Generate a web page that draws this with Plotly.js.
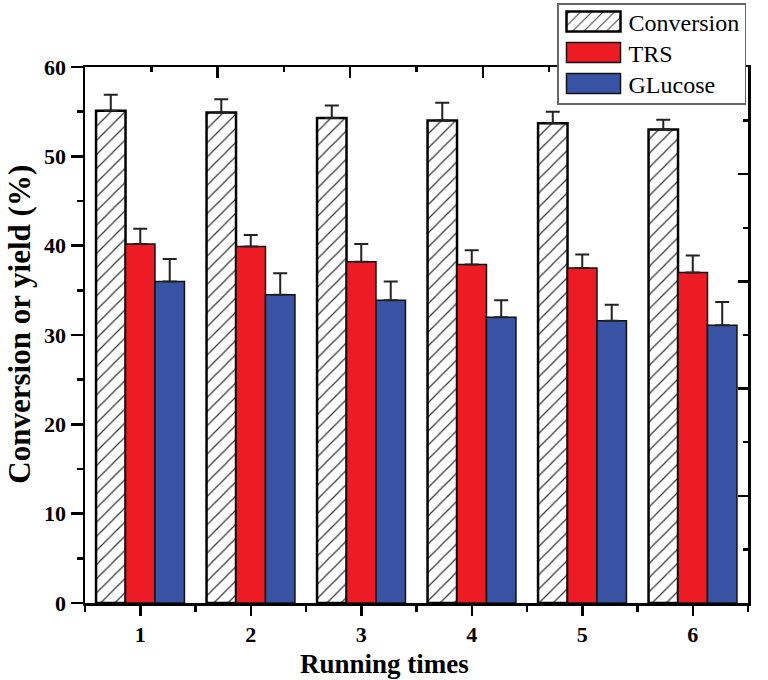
<!DOCTYPE html>
<html>
<head>
<meta charset="utf-8">
<script src="https://cdn.plot.ly/plotly-3.0.1.min.js"></script>
<style>
  body { margin: 0; background: #fff; }
  #chart { width: 768px; height: 680px; }
</style>
</head>
<body>
<div id="chart"></div>
<script>
// running times
const runs = [1, 2, 3, 4, 5, 6];

// conversion / yield values (%)
const conversion = [55.1, 54.9, 54.3, 54.0, 53.7, 53.0];
const conversionErr = [1.8, 1.5, 1.4, 2.0, 1.3, 1.1];
const trs = [40.2, 39.9, 38.2, 37.9, 37.5, 37.0];
const trsErr = [1.7, 1.3, 2.0, 1.6, 1.5, 1.9];
const glucose = [36.0, 34.5, 33.9, 32.0, 31.6, 31.1];
const glucoseErr = [2.5, 2.4, 2.1, 1.9, 1.8, 2.6];

const yTicks = [0, 10, 20, 30, 40, 50, 60];

const serif = 'Liberation Serif';

/**
 * Builds a bar trace with one-sided error bars
 */
function barTrace(name, values, errs, marker){
  return {
    type: 'bar',
    name: name,
    x: runs,
    y: values,
    marker: marker,
    error_y: {
      type: 'data',
      symmetric: false,
      array: errs,
      arrayminus: errs.map(function(){ return 0; }),
      color: '#222',
      thickness: 2,
      width: 7
    }
  };
}

const data = [
  barTrace('Conversion', conversion, conversionErr, {
    color: '#fff',
    line: {color: '#000', width: 2.5},
    pattern: {shape: '/', fgcolor: '#333', bgcolor: '#fff', size: 10, solidity: 0.12}
  }),
  barTrace('TRS', trs, trsErr, {
    color: '#ED1C24',
    line: {color: '#111', width: 1.5}
  }),
  barTrace('GLucose', glucose, glucoseErr, {
    color: '#3953A4',
    line: {color: '#111', width: 1.5}
  }),
  // invisible trace carrying the top / right frame axes
  {type: 'scatter', x: [0], y: [0], xaxis: 'x2', yaxis: 'y2',
   mode: 'markers', marker: {opacity: 0}, showlegend: false, hoverinfo: 'skip'}
];

const tickFont = {family: serif, size: 22, color: '#000', weight: 700};

// shared frame settings for the unlabeled top / right axes
function frameAxis(side, len){
  return {
    side: side,
    range: [0, 10],
    dtick: 2,
    tick0: 0,
    ticks: 'inside',
    ticklen: len,
    tickwidth: 2.5,
    tickcolor: '#000',
    minor: {dtick: 1, ticks: 'inside', ticklen: 5, tickwidth: 2.5, tickcolor: '#000'},
    showticklabels: false,
    showline: true,
    linecolor: '#000',
    linewidth: 2.5,
    showgrid: false,
    zeroline: false
  };
}

const xaxis2 = frameAxis('top', 11);
xaxis2.overlaying = 'x';
const yaxis2 = frameAxis('right', 10);
yaxis2.overlaying = 'y';

const layout = {
  width: 768,
  height: 680,
  margin: {l: 85, r: 20, t: 67, b: 77},
  paper_bgcolor: '#fff',
  plot_bgcolor: '#fff',
  barmode: 'group',
  bargap: 0.2,
  bargroupgap: 0,
  font: {family: serif, color: '#000'},
  xaxis: {
    range: [0.5, 6.5],
    tickvals: runs,
    ticktext: runs.map(String),
    ticks: 'outside',
    ticklen: 10,
    tickwidth: 2.5,
    tickcolor: '#000',
    minor: {dtick: 1, tick0: 0.5, ticks: 'outside', ticklen: 6, tickwidth: 2.5, tickcolor: '#000'},
    showline: true,
    linecolor: '#000',
    linewidth: 2.5,
    showgrid: false,
    zeroline: false,
    tickfont: tickFont
  },
  yaxis: {
    range: [0, 60],
    tickvals: yTicks,
    ticks: 'outside',
    ticklen: 12,
    tickwidth: 2.5,
    tickcolor: '#000',
    minor: {dtick: 5, ticks: 'outside', ticklen: 6, tickwidth: 2.5, tickcolor: '#000'},
    showline: true,
    linecolor: '#000',
    linewidth: 2.5,
    showgrid: false,
    zeroline: false,
    tickfont: tickFont
  },
  xaxis2: xaxis2,
  yaxis2: yaxis2,
  // axis titles sit a little off-centre in the original, so use annotations
  annotations: [
    {text: 'Running times', xref: 'paper', yref: 'paper', x: 0.451, y: -0.113,
     xanchor: 'center', yanchor: 'middle', showarrow: false,
     font: {family: serif, size: 27, color: '#000', weight: 700}},
    {text: 'Conversion or yield (%)', xref: 'paper', yref: 'paper', x: -0.099, y: 0.52,
     xanchor: 'center', yanchor: 'middle', showarrow: false, textangle: -90,
     font: {family: serif, size: 31, color: '#000', weight: 700}}
  ],
  showlegend: true,
  legend: {
    x: 0.69,
    y: 1.1,
    xanchor: 'left',
    yanchor: 'top',
    bgcolor: '#fff',
    bordercolor: '#666',
    borderwidth: 1.5,
    itemwidth: 60,
    font: {family: serif, size: 24, color: '#000'}
  }
};

Plotly.newPlot('chart', data, layout, {displayModeBar: false, staticPlot: true}).then(function(gd){
  // widen the legend swatches to the long boxes of the original figure
  document.querySelectorAll('.legend .legendpoints path').forEach(function(p){
    p.setAttribute('d', 'M27,10H-27V-10H27Z');
  });
  // move the legend box up into the corner and tighten its rows
  const legend = document.querySelector('g.legend');
  legend.setAttribute('transform', 'translate(557,3)');
  const items = legend.querySelectorAll('g.traces');
  let y0 = null;
  items.forEach(function(item, i){
    const m = /translate\(([-\d.]+)[ ,]+([-\d.]+)\)/.exec(item.getAttribute('transform') || '');
    if(!m) return;
    if(y0 === null) y0 = parseFloat(m[2]) - 5;
    item.setAttribute('transform', 'translate(' + m[1] + ',' + (y0 + 31 * i) + ')');
  });
  const bg = legend.querySelector('rect.bg');
  if(bg) bg.setAttribute('height', 100);
});
</script>
</body>
</html>
